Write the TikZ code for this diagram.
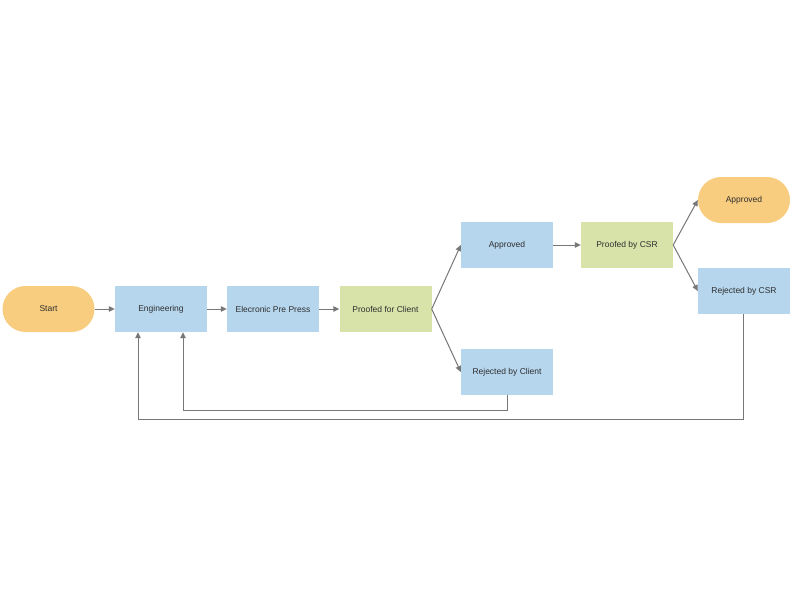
\documentclass[tikz,border=0pt]{standalone}
\usepackage{fontspec}
\setmainfont{Liberation Sans}
\usetikzlibrary{arrows.meta}
\definecolor{termc}{HTML}{F8CD7F}
\definecolor{procc}{HTML}{B6D6EE}
\definecolor{chkc}{HTML}{D7E3A9}
\definecolor{linec}{HTML}{777777}
\definecolor{txtc}{HTML}{2E2E2E}
\begin{document}
\begin{tikzpicture}[x=1pt,y=-1pt,
  box/.style={minimum width=92pt,minimum height=46pt,inner sep=0pt,text=txtc,font=\fontsize{8.5}{10}\selectfont},
  proc/.style={box,fill=procc},
  chk/.style={box,fill=chkc},
  term/.style={box,fill=termc,rounded corners=23pt},
  conn/.style={draw=linec,line width=1pt,-{Triangle[length=6pt,width=5.5pt]}},
  plain/.style={draw=linec,line width=1pt}]
\useasboundingbox (0,0) rectangle (800,600);
\fill[white] (0,0) rectangle (800,600);
\node[term] (start) at (48.5,309) {Start};
\node[proc] (eng) at (161,309) {Engineering};
\node[proc] (epp) at (273,309) {Elecronic Pre Press};
\node[chk] (pfc) at (385.5,309) {Proofed for Client};
\node[proc] (app) at (507,245) {Approved};
\node[proc] (rbc) at (507,372) {Rejected by Client};
\node[chk] (pcsr) at (627,245) {Proofed by CSR};
\node[term] (appf) at (744,200) {Approved};
\node[proc] (rcsr) at (744,291) {Rejected by CSR};
\coordinate (c1) at (507,410);
\coordinate (c2) at (183,410);
\coordinate (c3) at (743,419);
\coordinate (c4) at (138,419);
\draw[conn] (start) -- (eng);
\draw[conn] (eng) -- (epp);
\draw[conn] (epp) -- (pfc);
\draw[conn] (pfc.east) -- (app.west);
\draw[conn] (pfc.east) -- (rbc.west);
\draw[conn] (app) -- (pcsr);
\draw[conn] (pcsr.east) -- (appf.west);
\draw[conn] (pcsr.east) -- (rcsr.west);
\draw[conn] (rbc.south) -- (c1) -- (c2) -- (c2 |- eng.south);
\draw[conn] (rcsr.south -| c3) -- (c3) -- (c4) -- (c4 |- eng.south);
\end{tikzpicture}
\end{document}
